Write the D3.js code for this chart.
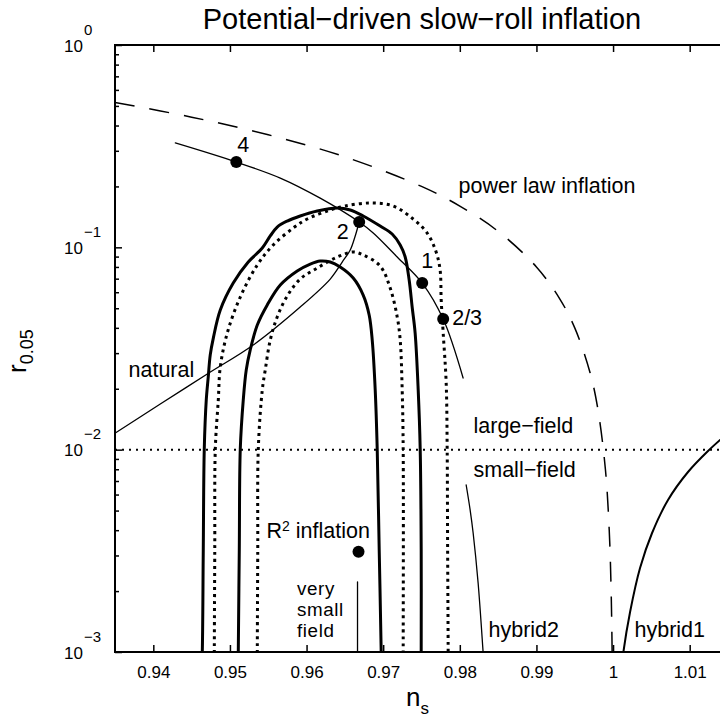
<!DOCTYPE html>
<html><head><meta charset="utf-8">
<script src="https://cdn.jsdelivr.net/npm/d3@7"></script>
<style>
html,body{margin:0;padding:0;background:#fff;overflow:hidden}
svg{display:block;font-family:"Liberation Sans",Arial,Helvetica,sans-serif}
</style></head><body>
<svg id="chart" width="720" height="719"></svg>
<script>
// ---------------- data ----------------
const xDomain = [0.935, 1.015];
const yDomain = [0.001, 1];
const xTicks = [0.94, 0.95, 0.96, 0.97, 0.98, 0.99, 1.00, 1.01];
const xTickLabels = ["0.94", "0.95", "0.96", "0.97", "0.98", "0.99", "1", "1.01"];
const yTicks = [0.001, 0.01, 0.1, 1];
const yTickExponents = ["\u22123", "\u22122", "\u22121", "0"];

// outer solid contour
const outerSolidNs = [0.94633,0.94639,0.94652,0.94665,0.94691,0.94717,0.94743,0.94783,0.94874,0.95043,0.95239,0.95422,0.95526,0.95617,0.95748,0.95917,0.96139,0.96400,0.96570,0.96739,0.96961,0.97117,0.97222,0.97287,0.97339,0.97378,0.97417,0.97457,0.97483,0.97496,0.97496,0.97496];
const outerSolidR  = [0.000913,0.001,0.00319,0.01008,0.0176,0.0229,0.0294,0.0356,0.0490,0.0666,0.0846,0.0992,0.1138,0.1260,0.1349,0.1429,0.1512,0.1564,0.1529,0.1429,0.1274,0.1164,0.1027,0.0896,0.0689,0.0507,0.0377,0.0197,0.01008,0.00319,0.001,0.000913];
// inner solid contour
const innerSolidNs = [0.95109,0.95109,0.95122,0.95135,0.95174,0.95213,0.95265,0.95357,0.95487,0.95657,0.95878,0.96048,0.96178,0.96309,0.96439,0.96609,0.96739,0.96817,0.96857,0.96896,0.96922,0.96948,0.96974,0.96974];
const innerSolidR  = [0.000913,0.001,0.00319,0.01008,0.0176,0.0248,0.0311,0.0413,0.0519,0.0651,0.0764,0.0827,0.0856,0.0846,0.0799,0.0705,0.0581,0.0463,0.0348,0.0197,0.01008,0.00319,0.001,0.000913];
// outer dotted contour
const outerDottedNs = [0.94796,0.94796,0.94802,0.94809,0.94848,0.94874,0.94965,0.95135,0.95357,0.95565,0.95826,0.96009,0.96309,0.96504,0.96830,0.97130,0.97391,0.97574,0.97691,0.97743,0.97757,0.97783,0.97822,0.97835,0.97841,0.97848,0.97848];
const outerDottedR  = [0.000913,0.001,0.00319,0.01008,0.0176,0.0256,0.0377,0.0568,0.0818,0.1027,0.1246,0.1380,0.1529,0.1601,0.1656,0.1601,0.1380,0.1177,0.0948,0.0772,0.0549,0.0377,0.0214,0.01008,0.00319,0.001,0.000913];
// inner dotted contour
const innerDottedNs = [0.95357,0.95357,0.95363,0.95370,0.95422,0.95461,0.95526,0.95617,0.95748,0.95917,0.96139,0.96400,0.96609,0.96739,0.96961,0.97091,0.97183,0.97222,0.97248,0.97261,0.97261,0.97261];
const innerDottedR  = [0.000913,0.001,0.00319,0.01008,0.0197,0.0248,0.0348,0.0453,0.0575,0.0697,0.0790,0.0896,0.0948,0.0917,0.0808,0.0630,0.0453,0.0348,0.0197,0.01008,0.001,0.000913];

// power-law inflation (dashed)
const powerLawNs = [0.935,0.945,0.955,0.965,0.975,0.980,0.985,0.990,0.993,0.995,0.997,0.998,0.999,0.9995,0.99975,0.99988];
const powerLawR  = [0.52,0.44,0.36,0.28,0.20,0.16,0.12,0.08,0.056,0.04,0.024,0.016,0.008,0.004,0.002,0.001];
// monomial (chaotic) line
const chaoticNs = [0.94287,0.95083,0.95657,0.96178,0.96687,0.96870,0.97183,0.97509,0.97783,0.98043];
const chaoticR  = [0.328,0.264,0.220,0.175,0.1334,0.1177,0.0896,0.0666,0.0442,0.0226];
// natural inflation
const naturalNs = [0.93504,0.94091,0.94704,0.95304,0.95917,0.96309,0.96465,0.96570,0.96635,0.96687];
const naturalR  = [0.01209,0.01681,0.02366,0.0329,0.0507,0.0697,0.0846,0.0970,0.1138,0.1334];
// hybrid models
const hybrid1Ns = [1.00126,1.00135,1.00222,1.00352,1.00509,1.00717,1.00978,1.01239,1.01500];
const hybrid1R  = [0.00093,0.001,0.001576,0.002601,0.003874,0.005639,0.007755,0.009849,0.01209];
const hybrid2Ns = [0.98083,0.98135,0.98174,0.98239,0.98304,0.98310];
const hybrid2R  = [0.00669,0.00503,0.003874,0.002193,0.001,0.00093];
// very small field segment
const verySmallNs = [0.96665,0.96665];
const verySmallR  = [0.00222,0.00093];
// monomial points
const pointLabels = ["4", "2", "1", "2/3"];
const pointNs = [0.95083, 0.96687, 0.97509, 0.97783];
const pointR  = [0.264, 0.1334, 0.0666, 0.0442];
// R^2 inflation point
const r2Ns = [0.96678];
const r2R  = [0.00313];
// large/small field boundary
const boundaryR = 0.01;

// ---------------- chart ----------------
const svg = d3.select("#chart");
const L = 115, T = 45, R = 728, B = 652;
const x = d3.scaleLinear().domain(xDomain).range([L, R]);
const y = d3.scaleLog().domain(yDomain).range([B, T]);

svg.append("defs").append("clipPath").attr("id", "clip")
  .append("rect").attr("x", L).attr("y", T).attr("width", R - L).attr("height", B - T);

const plot = svg.append("g").attr("clip-path", "url(#clip)");
const line = d3.line().x(d => x(d[0])).y(d => y(d[1])).curve(d3.curveCatmullRom.alpha(0.5));

function draw(ns, r, width, dash) {
  const p = plot.append("path").datum(d3.zip(ns, r))
    .attr("d", line).attr("fill", "none").attr("stroke", "#000")
    .attr("stroke-width", width).attr("stroke-linejoin", "round");
  if (dash) p.attr("stroke-dasharray", dash); else p.attr("stroke-linecap", "round");
  return p;
}

// boundary dotted line
plot.append("line").attr("x1", L).attr("x2", R).attr("y1", y(boundaryR)).attr("y2", y(boundaryR))
  .attr("stroke", "#000").attr("stroke-width", 2).attr("stroke-dasharray", "2,5");

draw(outerDottedNs, outerDottedR, 3, "3,4");
draw(innerDottedNs, innerDottedR, 3, "3,4");
draw(outerSolidNs, outerSolidR, 3);
draw(innerSolidNs, innerSolidR, 3);
draw(powerLawNs, powerLawR, 1.5, "20,15");
draw(chaoticNs, chaoticR, 1.3);
draw(naturalNs, naturalR, 1.3);
draw(hybrid1Ns, hybrid1R, 2);
draw(hybrid2Ns, hybrid2R, 1.3);
draw(verySmallNs, verySmallR, 1.3);

plot.selectAll("circle.pt").data(d3.zip(pointNs, pointR)).join("circle")
  .attr("class", "pt").attr("cx", d => x(d[0])).attr("cy", d => y(d[1])).attr("r", 6).attr("fill", "#000");
plot.selectAll("circle.r2").data(d3.zip(r2Ns, r2R)).join("circle")
  .attr("class", "r2").attr("cx", d => x(d[0])).attr("cy", d => y(d[1])).attr("r", 6).attr("fill", "#000");

// ---------------- axes ----------------
const ax = svg.append("g");
const xb = ax.append("g").attr("transform", `translate(0,${B})`)
  .call(d3.axisBottom(x).tickValues(xTicks).tickSize(-7).tickSizeOuter(0).tickPadding(14)
    .tickFormat((d, i) => xTickLabels[i]));
ax.append("g").attr("transform", `translate(0,${T})`)
  .call(d3.axisTop(x).tickValues(xTicks).tickSize(-7).tickSizeOuter(0).tickFormat(""));
const minorY = [];
for (let e = -3; e < 0; e++) for (let m = 2; m <= 9; m++) minorY.push(m * Math.pow(10, e));
ax.append("g").attr("transform", `translate(${L},0)`)
  .call(d3.axisLeft(y).tickValues(minorY).tickSize(-4).tickSizeOuter(0).tickFormat(""));
ax.append("g").attr("transform", `translate(${L},0)`)
  .call(d3.axisLeft(y).tickValues(yTicks).tickSize(-7).tickSizeOuter(0).tickFormat(""));
ax.append("g").attr("transform", `translate(${R},0)`)
  .call(d3.axisRight(y).tickValues(minorY).tickSize(-4).tickSizeOuter(0).tickFormat(""));
ax.append("g").attr("transform", `translate(${R},0)`)
  .call(d3.axisRight(y).tickValues(yTicks).tickSize(-7).tickSizeOuter(0).tickFormat(""));
ax.selectAll(".domain").remove();
ax.selectAll(".tick line").attr("stroke", "#000").attr("stroke-width", 1.5);
ax.selectAll("g").attr("font-family", null).attr("font-size", null);
xb.selectAll(".tick text").attr("font-size", 17).attr("fill", "#000");

ax.append("rect").attr("x", L).attr("y", T).attr("width", R - L).attr("height", B - T)
  .attr("fill", "none").attr("stroke", "#000").attr("stroke-width", 2);

// y tick labels 10^k
const ylab = ax.append("g");
yTicks.forEach((v, i) => {
  const yy = y(v);
  ylab.append("text").attr("x", 83).attr("y", yy + 6.5).attr("text-anchor", "end")
    .attr("font-size", 17).text("10");
  ylab.append("text").attr("x", 84).attr("y", yy - 10.5).attr("text-anchor", "start")
    .attr("font-size", 15).text(yTickExponents[i]);
});

// title
svg.append("text").attr("x", 422).attr("y", 29).attr("text-anchor", "middle")
  .attr("font-size", 29).text("Potential\u2212driven slow\u2212roll inflation");

// axis labels
const ylabG = svg.append("text").attr("transform", "translate(26,373) rotate(-90)");
ylabG.append("tspan").attr("font-size", 26).text("r");
ylabG.append("tspan").attr("font-size", 18).attr("dy", 7).text("0.05");
const xlabG = svg.append("text").attr("x", 406).attr("y", 706);
xlabG.append("tspan").attr("font-size", 26).text("n");
xlabG.append("tspan").attr("font-size", 17).attr("dy", 8).text("s");

// point labels
const lblOff = [[7, -10, "middle"], [-16.5, 17, "middle"], [5, -15, "middle"], [9, 6, "start"]];
pointLabels.forEach((t, i) => {
  svg.append("text").attr("x", x(pointNs[i]) + lblOff[i][0]).attr("y", y(pointR[i]) + lblOff[i][1])
    .attr("text-anchor", lblOff[i][2]).attr("font-size", 21.5).text(t);
});

// annotations
const fs = 21.5;
function lab(tx, ty, t) {
  return svg.append("text").attr("x", tx).attr("y", ty).attr("font-size", fs).text(t);
}
lab(458.5, 193, "power law inflation");
lab(128.5, 377, "natural");
lab(473.5, 433, "large\u2212field");
lab(473.5, 477, "small\u2212field");
lab(488.5, 637, "hybrid2");
lab(634.5, 637, "hybrid1");
const r2t = svg.append("text").attr("x", 266.5).attr("y", 538).attr("font-size", fs);
r2t.append("tspan").text("R");
r2t.append("tspan").attr("font-size", 14).attr("dy", -7).text("2");
r2t.append("tspan").attr("dy", 7).text("\u00a0inflation");
const vsf = svg.append("text").attr("font-size", 18.8).attr("letter-spacing", 0.6);
["very", "small", "field"].forEach((w, i) => {
  vsf.append("tspan").attr("x", 297).attr("y", 595 + i * 21).text(w);
});
</script>
</body></html>
